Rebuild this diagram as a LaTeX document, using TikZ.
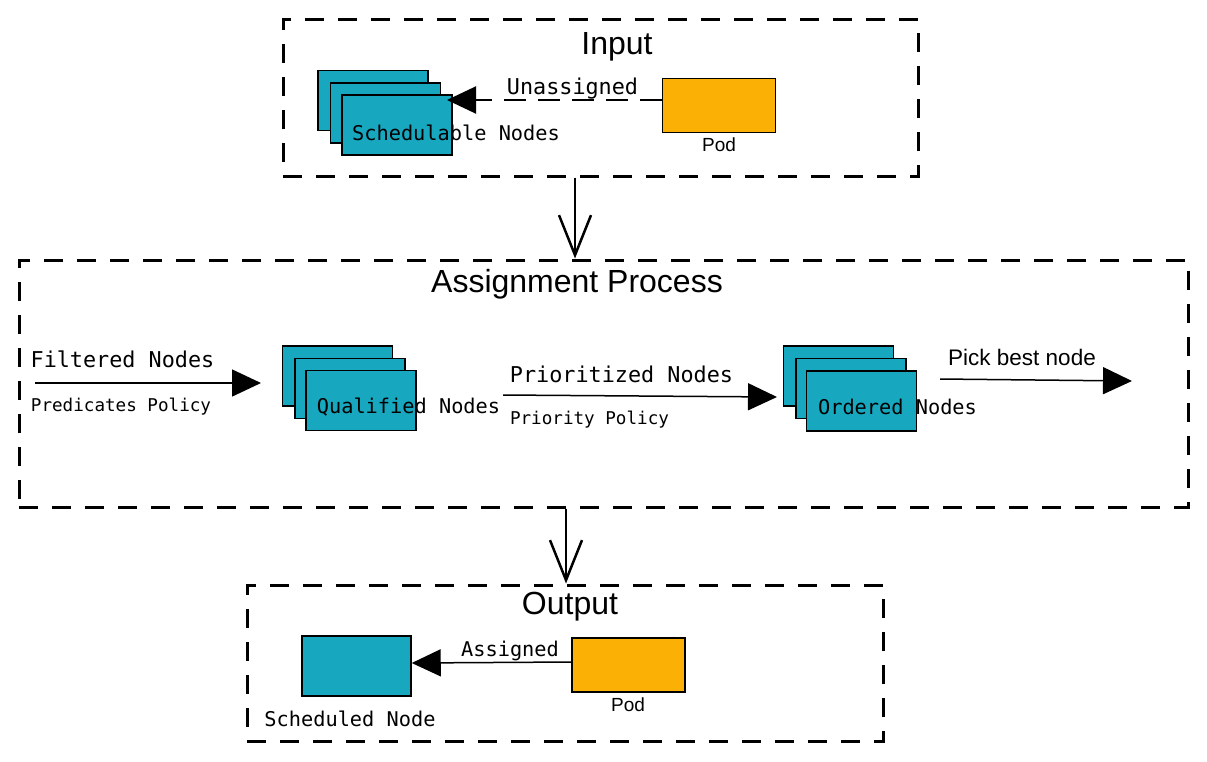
\documentclass[tikz,border=0pt]{standalone}
\usepackage{fontspec}
\setmainfont{Liberation Sans}
\newfontfamily\monof{DejaVu Sans Mono}
\usetikzlibrary{arrows.meta}
\definecolor{teal1}{HTML}{17A8C0}
\definecolor{orng}{HTML}{FAB005}
\tikzset{
  dbox/.style={draw, line width=3pt, dash pattern=on 19pt off 14pt, inner sep=0pt},
  stk/.style={draw, fill=teal1, line width=1.5pt, minimum width=110pt, minimum height=60pt, inner sep=0pt},
  pod/.style={draw, fill=orng, line width=1.5pt, minimum width=113pt, minimum height=54pt, inner sep=0pt},
  title/.style={font=\fontsize{32}{32}\selectfont, inner sep=0pt},
  mlab/.style={font=\monof\fontsize{20.3}{22}\selectfont, inner sep=0pt},
  mbig/.style={font=\monof\fontsize{21.8}{23}\selectfont, inner sep=0pt},
  msmall/.style={font=\monof\fontsize{17.6}{19}\selectfont, inner sep=0pt},
  slab/.style={font=\fontsize{19}{20}\selectfont, inner sep=0pt},
  sbig/.style={font=\fontsize{22.5}{24}\selectfont, inner sep=0pt},
  farr/.style={line width=1.5pt, -{Triangle[length=29pt, width=27pt]}},
  darr/.style={line width=2pt, dash pattern=on 22pt off 12pt, -{Triangle[length=29pt, width=27pt]}},
  varr/.style={line width=2.5pt, -{Straight Barb[length=40pt, width=32pt, line width=2.5pt]}}
}
\begin{document}
\begin{tikzpicture}[x=1pt, y=-1pt]
\useasboundingbox (0,0) rectangle (1207,761);
% Containers
\node[dbox, minimum width=635pt, minimum height=157pt] (inbox) at (600.5,97.5) {};
\node[dbox, minimum width=1169pt, minimum height=247pt] (assign) at (603.5,383.5) {};
\node[dbox, minimum width=636pt, minimum height=156pt] (outbox) at (565,663) {};
% Titles
\node[title] (tin) at (617,46.5) {Input};
\node[title] (tas) at (577,284.5) {Assignment Process};
\node[title] (tout) at (570,606.5) {Output};
% Input
\node[stk] (sn1) at (373,100.5) {};
\node[stk] (sn2) at (385.5,113) {};
\node[stk] (sn3) at (397,125) {};
\node[mlab] (snl) at (456,133) {Schedulable Nodes};
\node[pod] (pod1) at (719,105.5) {};
\node[slab] (pod1l) at (719,144.5) {Pod};
\coordinate (ua) at ([yshift=5.5pt]pod1.west);
\coordinate (ub) at (447,100);
\draw[darr] (ua) -- (ub);
\node[mbig] (unl) at (572.5,89) {Unassigned};
% Vertical arrows
\coordinate (v1) at (575,0);
\draw[varr] (inbox.south -| v1) -- (assign.north -| v1);
\coordinate (v2) at (566,0);
\draw[varr] (assign.south -| v2) -- (outbox.north -| v2);
% Assignment process
\node[mbig] (fnl) at (122.5,359) {Filtered Nodes};
\node[msmall] (ppl) at (121,406.5) {Predicates Policy};
\coordinate (f1) at (35,383);
\coordinate (f2) at (261,383);
\draw[farr] (f1) -- (f2);
\node[stk] (q1) at (337.5,376) {};
\node[stk] (q2) at (350,388.5) {};
\node[stk] (q3) at (361,400.5) {};
\node[mlab] (qnl) at (408.5,407) {Qualified Nodes};
\node[mbig] (pnl) at (621.5,374) {Prioritized Nodes};
\node[msmall] (prl) at (589.5,419.5) {Priority Policy};
\coordinate (p1) at (503,395);
\coordinate (p2) at (777,397);
\draw[farr] (p1) -- (p2);
\node[stk] (o1) at (838.5,376) {};
\node[stk] (o2) at (851,388.5) {};
\node[stk] (o3) at (861.5,401) {};
\node[mlab] (onl) at (897.5,407) {Ordered Nodes};
\node[sbig] (pbl) at (1022,357.5) {Pick best node};
\coordinate (k1) at (940,379);
\coordinate (k2) at (1132,381);
\draw[farr] (k1) -- (k2);
% Output
\node[stk, minimum width=109pt] (sched) at (356.5,666) {};
\node[mlab] (schl) at (350,719) {Scheduled Node};
\node[pod] (pod2) at (628.5,665) {};
\node[slab] (pod2l) at (628,704.5) {Pod};
\coordinate (oa) at ([yshift=3pt]pod2.west);
\coordinate (ob) at ([yshift=3pt]sched.east);
\draw[farr] (oa) -- (ob);
\node[mlab] (asl) at (510,650.5) {Assigned};
\end{tikzpicture}
\end{document}
